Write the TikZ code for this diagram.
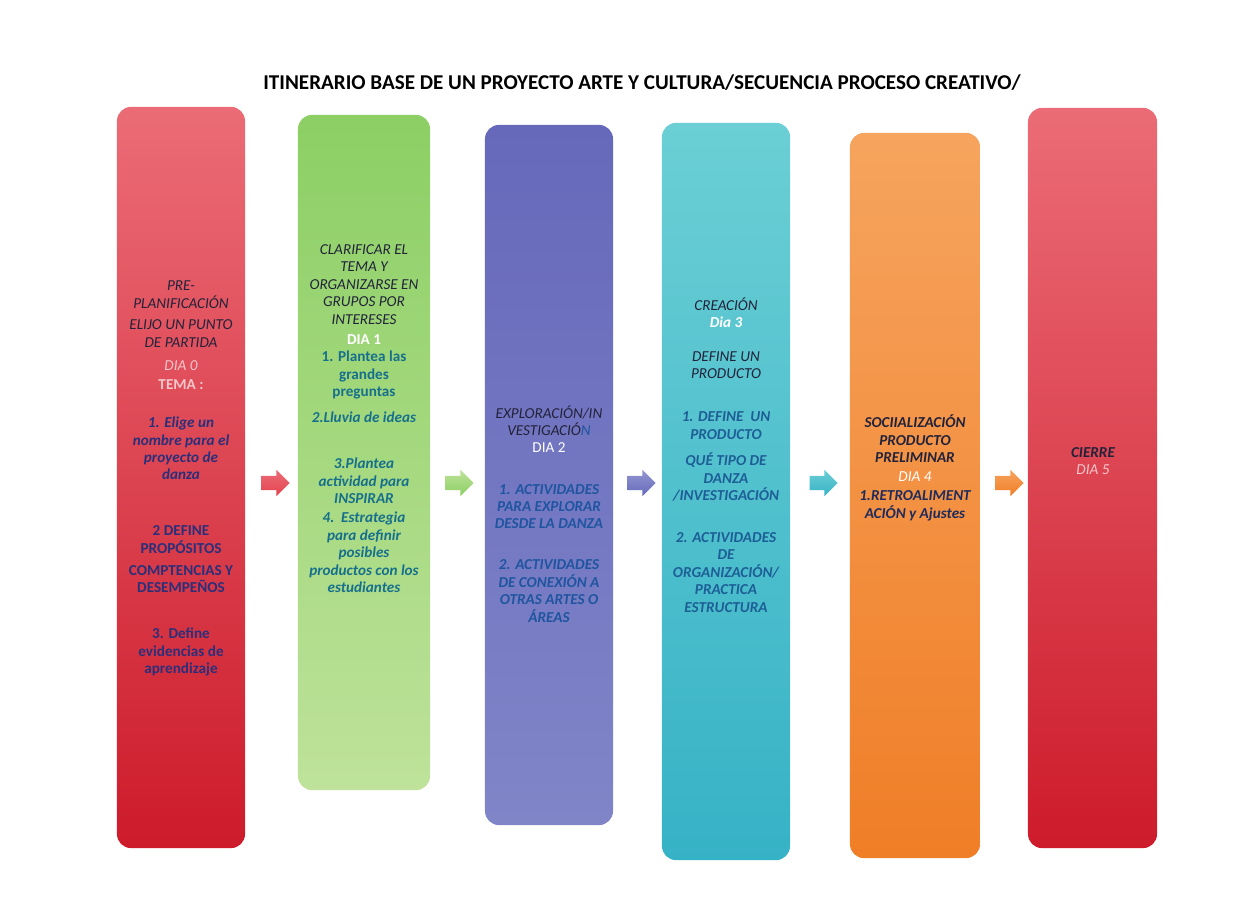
\documentclass[tikz,border=0pt]{standalone}
\usepackage{fontspec}
\setmainfont{Carlito}
\usetikzlibrary{positioning,shapes.arrows}

\definecolor{oscuro}{HTML}{22223A}
\definecolor{marino}{HTML}{2B2F7A}
\definecolor{verdeazul}{HTML}{16708C}
\definecolor{azulA}{HTML}{1F55A0}
\definecolor{azulB}{HTML}{1D5E96}
\definecolor{marinoB}{HTML}{1E2B5C}
\definecolor{rosado}{HTML}{F6C6CA}
% column shades
\definecolor{rojoT}{HTML}{EB6C76}
\definecolor{rojoM}{HTML}{E4434F}
\definecolor{rojoB}{HTML}{CD1B2B}
\definecolor{verdeT}{HTML}{8CCF64}
\definecolor{verdeB}{HTML}{BEE29A}
\definecolor{lilaT}{HTML}{6668BA}
\definecolor{lilaM}{HTML}{9397D0}
\definecolor{lilaB}{HTML}{8085C8}
\definecolor{turqT}{HTML}{6BCFD5}
\definecolor{turqB}{HTML}{36B2C6}
\definecolor{naranjaT}{HTML}{F6A45E}
\definecolor{naranjaB}{HTML}{F07E27}

\tikzstyle{col}=[rounded corners=0.35cm, minimum width=3.2cm, inner sep=0pt]
\tikzstyle{arr}=[single arrow, minimum height=0.7cm, inner xsep=0pt, inner ysep=0.17cm,
  single arrow head extend=0.15cm]
\tikzstyle{txt}=[align=center, inner sep=0pt, font=\fontsize{10.8}{12.4}\selectfont]

\begin{document}
\begin{tikzpicture}[x=0.025cm, y=-0.025cm,
	hd/.style  = {txt, font=\fontsize{10.8}{12.4}\selectfont\itshape, text=oscuro},
	dia/.style = {txt, font=\fontsize{10.8}{12.4}\selectfont\itshape, text=rosado},
	act/.style = {txt, font=\fontsize{10.8}{12.4}\selectfont\bfseries\itshape}]

	\useasboundingbox (0,0) rectangle (1245,910);

	% title
	\node[font=\fontsize{15}{17}\selectfont\bfseries] (titulo) at (642,83)
	{ITINERARIO BASE DE UN PROYECTO ARTE Y CULTURA/SECUENCIA PROCESO CREATIVO/};

	% columns
	\node[col, minimum height=18.525cm, top color=rojoT, middle color=rojoM,
	  bottom color=rojoB] (c1) at (181,477.5) {};
	\node[col, minimum width=3.3cm, minimum height=16.875cm, top color=verdeT,
	  bottom color=verdeB] (c2) at (364,452.5) {};
	\node[col, minimum height=17.5cm, top color=lilaT, middle color=lilaM,
	  bottom color=lilaB] (c3) at (549,475) {};
	\node[col, minimum height=18.425cm, top color=turqT,
	  bottom color=turqB] (c4) at (726,491.5) {};
	\node[col, minimum width=3.25cm, minimum height=18.125cm, top color=naranjaT,
	  bottom color=naranjaB] (c5) at (915,495.5) {};
	\node[col, minimum width=3.225cm, minimum height=18.5cm, top color=rojoT,
	  middle color=rojoM, bottom color=rojoB] (c6) at (1092.5,478) {};

	% arrows between columns
	\node[arr, top color=rojoT, bottom color=rojoM] (a1) at (272,483) {};
	\node[arr, top color=verdeB, bottom color=verdeT] (a2) at (456,483) {};
	\node[arr, top color=lilaM, bottom color=lilaT] (a3) at (638,483) {};
	\node[arr, top color=turqT, bottom color=turqB] (a4) at (820,483) {};
	\node[arr, top color=naranjaT, bottom color=naranjaB] (a5) at (1006,483) {};

	% column 1
	\node[hd] (t1a) at (181,294.5) {PRE-\\PLANIFICACIÓN};
	\node[hd] (t1b) at (181,333.5) {ELIJO UN PUNTO\\DE PARTIDA};
	\node[dia] (t1c) at (181,366) {DIA 0};
	\node[txt, font=\fontsize{10.8}{12.4}\selectfont\bfseries, text=rosado] (t1d) at (181,385) {TEMA :};
	\node[act, text=marino] (t1e) at (181,448.5) {1. Elige un\\nombre para el\\proyecto de\\danza};
	\node[txt, font=\fontsize{10.8}{12.4}\selectfont\bfseries, text=marino] (t1f) at (181,539.5) {2 DEFINE\\PROPÓSITOS};
	\node[txt, font=\fontsize{10.8}{12.4}\selectfont\bfseries, text=marino] (t1g) at (181,579) {COMPTENCIAS Y\\DESEMPEÑOS};
	\node[txt, font=\fontsize{10.8}{12.4}\selectfont\bfseries, text=marino] (t1h) at (181,652) {3. Define\\evidencias de\\aprendizaje};

	% column 2
	\node[hd] (t2a) at (364,284.5) {CLARIFICAR EL\\TEMA Y\\ORGANIZARSE EN\\GRUPOS POR\\INTERESES};
	\node[txt, font=\fontsize{10.8}{12.4}\selectfont\bfseries, text=white] (t2b) at (364,340) {DIA 1};
	\node[txt, font=\fontsize{10.8}{12.4}\selectfont\bfseries, text=verdeazul] (t2c) at (364,375) {1. Plantea las\\grandes\\preguntas};
	\node[act, text=verdeazul] (t2d) at (364,417) {2.Lluvia de ideas};
	\node[act, text=verdeazul] (t2e) at (364,481) {3.Plantea\\actividad para\\INSPIRAR};
	\node[act, text=verdeazul] (t2f) at (364,552.5) {4.~~Estrategia\\para definir\\posibles\\productos con los\\estudiantes};

	% column 3
	\node[hd] (t3a) at (549,420.5) {EXPLORACIÓN/IN\\VESTIGACIÓ{\color{azulA}N}};
	\node[txt, text=white] (t3b) at (549,448) {DIA 2};
	\node[act, text=azulA] (t3c) at (549,506.5) {1. ACTIVIDADES\\PARA EXPLORAR\\DESDE LA DANZA};
	\node[act, text=azulA] (t3d) at (549,591) {2. ACTIVIDADES\\DE CONEXIÓN A\\OTRAS ARTES O\\ÁREAS};

	% column 4
	\node[hd] (t4a) at (726,304) {CREACIÓN};
	\node[act, text=white] (t4b) at (726,322) {Dia 3};
	\node[hd] (t4c) at (726,365) {DEFINE UN\\PRODUCTO};
	\node[act, text=azulB] (t4d) at (726,425.5) {1. DEFINE~~UN\\PRODUCTO};
	\node[act, text=azulB] (t4e) at (726,477) {QUÉ TIPO DE\\DANZA\\/INVESTIGACIÓN};
	\node[act, text=azulB] (t4f) at (726,572.5) {2. ACTIVIDADES\\DE\\ORGANIZACIÓN/\\PRACTICA\\ESTRUCTURA};

	% column 5
	\node[act, text=oscuro] (t5a) at (915,439) {SOCIIALIZACIÓN\\PRODUCTO\\PRELIMINAR};
	\node[dia, text=white] (t5b) at (915,477) {DIA 4};
	\node[act, text=marinoB] (t5c) at (915,506) {1.RETROALIMENT\\ACIÓN y Ajustes};

	% column 6
	\node[act, text=oscuro] (t6a) at (1093,453) {CIERRE};
	\node[dia] (t6b) at (1093,470) {DIA 5};

\end{tikzpicture}
\end{document}
